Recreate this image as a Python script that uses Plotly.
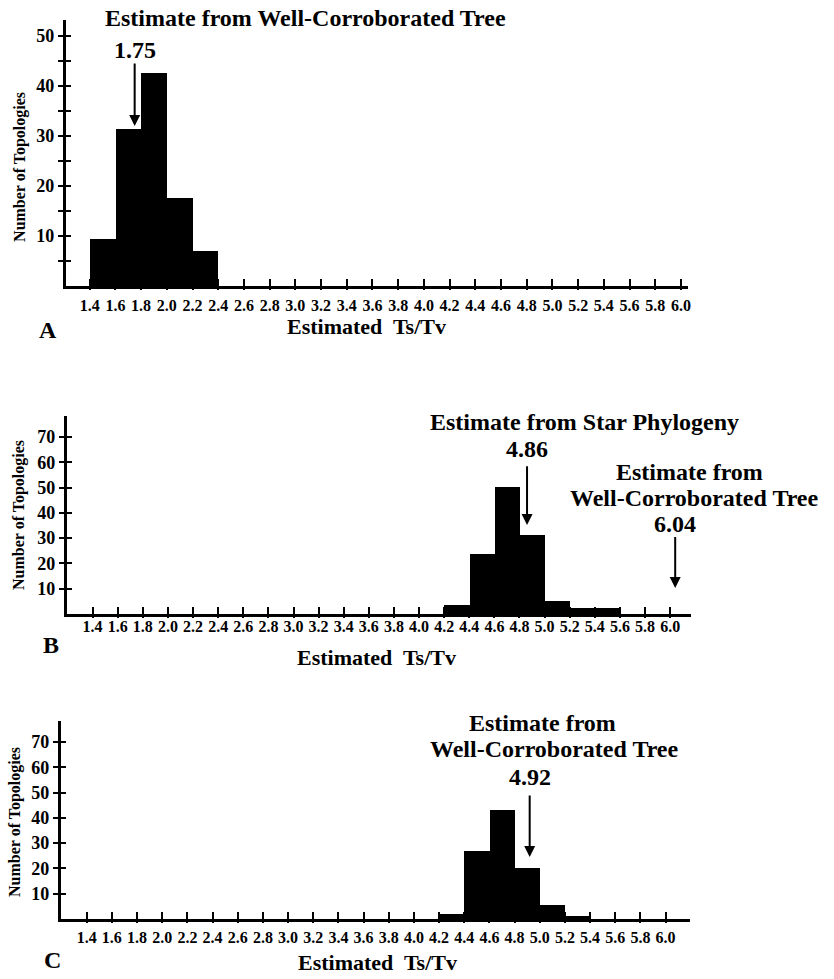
import plotly.graph_objects as go

W, H = 834, 979
FONT = "Liberation Serif"

# ---------------- data ----------------
x_tick_vals = [1.4, 1.6, 1.8, 2.0, 2.2, 2.4, 2.6, 2.8, 3.0, 3.2, 3.4, 3.6, 3.8, 4.0,
               4.2, 4.4, 4.6, 4.8, 5.0, 5.2, 5.4, 5.6, 5.8, 6.0]
x_tick_labels = ["1.4", "1.6", "1.8", "2.0", "2.2", "2.4", "2.6", "2.8", "3.0", "3.2",
                 "3.4", "3.6", "3.8", "4.0", "4.2", "4.4", "4.6", "4.8", "5.0", "5.2",
                 "5.4", "5.6", "5.8", "6.0"]
bin_width = 0.2

a_bins = [1.4, 1.6, 1.8, 2.0, 2.2]
a_counts = [9.5, 31.4, 42.6, 17.6, 7.0]

b_bins = [4.2, 4.4, 4.6, 4.8, 5.0, 5.2, 5.4]
b_counts = [3.5, 23.7, 50.2, 31.2, 5.0, 2.4, 2.2]

c_bins = [4.2, 4.4, 4.6, 4.8, 5.0, 5.2]
c_counts = [2.0, 26.9, 43.2, 20.1, 5.6, 1.3]

a_y_ticks = [5, 10, 15, 20, 25, 30, 35, 40, 45, 50]
a_y_labels = ["", "10", "", "20", "", "30", "", "40", "", "50"]
bc_y_ticks = [10, 20, 30, 40, 50, 60, 70]
bc_y_labels = ["10", "20", "30", "40", "50", "60", "70"]

a_estimate_tree = 1.75
b_estimate_star = 4.86
b_estimate_tree = 6.04
c_estimate_tree = 4.92

x_title = "Estimated\u00a0 Ts/Tv"
y_title = "Number of Topologies"


def px(x):
    return x / W


def py(y):
    return 1 - y / H


fig = go.Figure()

panels = [
    dict(bins=a_bins, counts=a_counts, xa="x", ya="y", ox="x4", oy="y4",
         xd=(66, 690), yd=(286, 20), xr=(1.214, 6.051), yr=(0, 53.2),
         yt=a_y_ticks, yl=a_y_labels, xso=3),
    dict(bins=b_bins, counts=b_counts, xa="x2", ya="y2", ox="x5", oy="y5",
         xd=(67, 693), yd=(614, 416), xr=(1.194, 6.162), yr=(0, 78.3),
         yt=bc_y_ticks, yl=bc_y_labels, xso=-4),
    dict(bins=c_bins, counts=c_counts, xa="x3", ya="y3", ox="x6", oy="y6",
         xd=(61, 692), yd=(919, 721), xr=(1.194, 6.19), yr=(0, 78.3),
         yt=bc_y_ticks, yl=bc_y_labels, xso=2),
]

layout_axes = {}
for p in panels:
    fig.add_trace(go.Bar(
        x=p["bins"], y=p["counts"], width=bin_width, offset=0,
        marker=dict(color="black", line=dict(width=0)),
        xaxis=p["xa"], yaxis=p["ya"], showlegend=False, hoverinfo="skip"))
    fig.add_trace(go.Scatter(x=[None], y=[None], xaxis=p["ox"], yaxis=p["oy"],
                             showlegend=False, hoverinfo="skip"))
    xdom = [px(p["xd"][0]), px(p["xd"][1])]
    ydom = [py(p["yd"][0]), py(p["yd"][1])]
    xk = "xaxis" + p["xa"][1:]
    yk = "yaxis" + p["ya"][1:]
    oxk = "xaxis" + p["ox"][1:]
    oyk = "yaxis" + p["oy"][1:]
    layout_axes[xk] = dict(
        domain=xdom, range=list(p["xr"]), anchor=p["ya"],
        showline=True, linecolor="black", linewidth=3,
        tickmode="array", tickvals=x_tick_vals, ticktext=x_tick_labels,
        ticks="inside", ticklen=7, tickwidth=1.5, tickcolor="black",
        ticklabelstandoff=p["xso"],
        tickfont=dict(family=FONT, size=16, color="black", weight="bold"),
        showgrid=False, zeroline=False, fixedrange=True)
    layout_axes[yk] = dict(
        domain=ydom, range=list(p["yr"]), anchor=p["xa"],
        showline=True, linecolor="black", linewidth=3,
        tickmode="array", tickvals=p["yt"], ticktext=p["yl"],
        ticks="outside", ticklen=5, tickwidth=1.5, tickcolor="black",
        ticklabelstandoff=0,
        tickfont=dict(family=FONT, size=18, color="black", weight="bold"),
        showgrid=False, zeroline=False, fixedrange=True)
    # overlay axes supply the other half of the crossing tick marks
    layout_axes[oxk] = dict(
        overlaying=p["xa"], anchor=p["oy"], range=list(p["xr"]),
        showline=False, tickmode="array", tickvals=x_tick_vals,
        ticks="outside", ticklen=3, tickwidth=1.5, tickcolor="black",
        showticklabels=False, showgrid=False, zeroline=False, fixedrange=True)
    layout_axes[oyk] = dict(
        overlaying=p["ya"], anchor=p["ox"], range=list(p["yr"]), side="left",
        showline=False, tickmode="array", tickvals=p["yt"],
        ticks="inside", ticklen=5, tickwidth=1.5, tickcolor="black",
        showticklabels=False, showgrid=False, zeroline=False, fixedrange=True)

fig.update_layout(**layout_axes)

ann = []


def text_ann(x, y, text, size=24, xref="paper", yref="paper", xanchor="center", angle=0):
    ann.append(dict(x=x, y=y, xref=xref, yref=yref, text=text, showarrow=False,
                    xanchor=xanchor, yanchor="middle", textangle=angle,
                    font=dict(family=FONT, size=size, color="black", weight="bold")))


def arrow_ann(x, y_tip, y_tail, xref, yref):
    ann.append(dict(x=x, y=y_tip, ax=x, ay=y_tail, xref=xref, yref=yref,
                    axref=xref, ayref=yref, text="", showarrow=True,
                    arrowhead=2, arrowsize=1.1, arrowwidth=2, arrowcolor="black"))


# Panel A
text_ann(px(103), py(18), "Estimate from Well-Corroborated Tree", xanchor="left")
text_ann(a_estimate_tree, 47.2, "1.75", xref="x", yref="y")
arrow_ann(a_estimate_tree, 32.0, 44.8, "x", "y")

# Panel B
text_ann(px(587), py(422), "Estimate from Star Phylogeny")
text_ann(b_estimate_star, 65.4, "4.86", xref="x2", yref="y2")
arrow_ann(b_estimate_star, 35.2, 59.0, "x2", "y2")
text_ann(px(692), py(472), "Estimate from")
text_ann(px(697), py(498), "Well-Corroborated Tree")
text_ann(b_estimate_tree, 35.6, "6.04", xref="x2", yref="y2")
arrow_ann(b_estimate_tree, 10.3, 31.0, "x2", "y2")

# Panel C
text_ann(px(544), py(723), "Estimate from")
text_ann(px(556), py(749), "Well-Corroborated Tree")
text_ann(c_estimate_tree, 56.0, "4.92", xref="x3", yref="y3")
arrow_ann(c_estimate_tree, 24.5, 49.4, "x3", "y3")

# axis titles, y titles, panel letters
for xc, yc in [(368, 327), (378, 657), (379, 962)]:
    text_ann(px(xc), py(yc), x_title, size=22)
for xc, yc in [(20, 167), (19, 515), (15, 822)]:
    text_ann(px(xc), py(yc), y_title, size=16, angle=-90)
for letter, xc, yc in [("A", 48, 330), ("B", 51, 645), ("C", 53, 960)]:
    text_ann(px(xc), py(yc), letter, size=24)

fig.update_layout(
    width=W, height=H, margin=dict(l=0, r=0, t=0, b=0),
    paper_bgcolor="white", plot_bgcolor="white",
    bargap=0, showlegend=False, annotations=ann,
)

fig.write_html("out.html", config={"displayModeBar": False},
               post_script="document.body.style.margin='0';document.body.style.overflow='hidden';")
